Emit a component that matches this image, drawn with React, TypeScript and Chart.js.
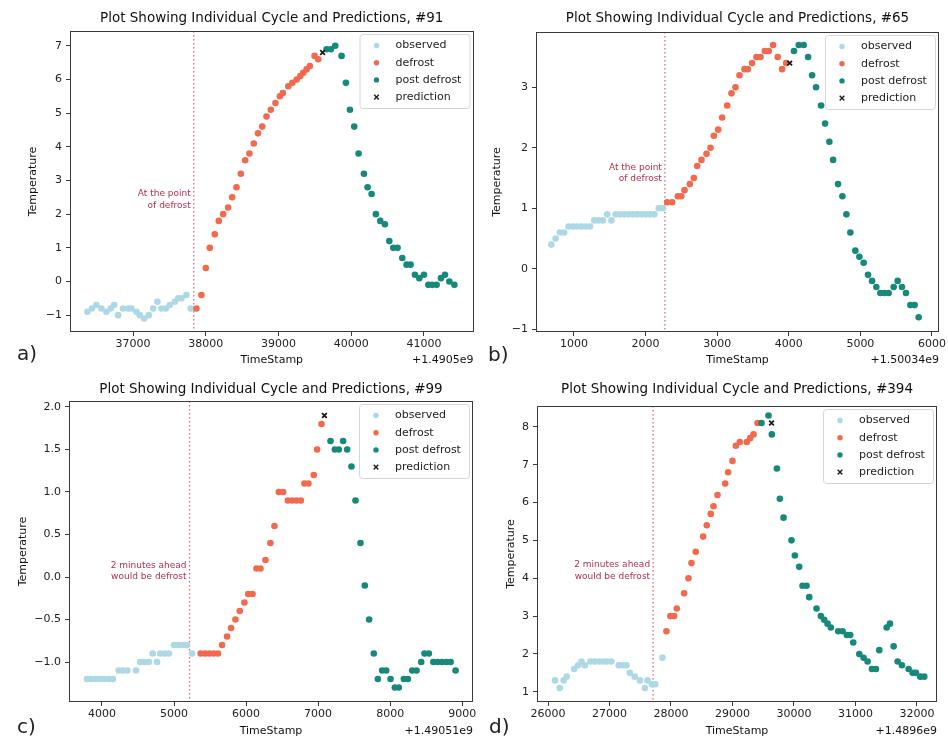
import React, { useEffect, useRef } from 'react';
import { Chart, registerables } from 'chart.js';
Chart.register(...registerables);

const W = 948;
const H = 738;
const FONT = '"DejaVu Sans", sans-serif';

// ---------- Panel a (#91) ----------
const aTitle = 'Plot Showing Individual Cycle and Predictions, #91';
const aOffset = '+1.4905e9';
const aNote = ['At the point', 'of defrost'];
const aLineX = 37835;
const aNoteY = 2.43;
const aXRange = [36133, 41681];
const aYRange = [-1.5, 7.44];
const aXTicks = [37000, 38000, 39000, 40000, 41000];
const aYTicks = [-1, 0, 1, 2, 3, 4, 5, 6, 7];
const aObsX = [36372, 36436, 36496, 36565, 36633, 36693, 36739, 36794, 36863, 36932, 36977, 37046, 37092, 37152, 37216, 37276, 37335, 37390, 37450, 37505, 37574, 37620, 37666, 37734, 37794];
const aObsY = [-0.9, -0.8, -0.7, -0.8, -0.9, -0.8, -0.7, -1.0, -0.8, -0.8, -0.8, -0.9, -1.0, -1.1, -1.0, -0.8, -0.6, -0.8, -0.8, -0.7, -0.6, -0.5, -0.5, -0.4, -0.8];
const aDefX = [37872, 37940, 38000, 38055, 38124, 38179, 38239, 38307, 38362, 38422, 38482, 38541, 38600, 38660, 38718, 38776, 38835, 38894, 38958, 39019, 39060, 39135, 39190, 39250, 39300, 39340, 39386, 39431, 39496, 39546];
const aDefY = [-0.8, -0.4, 0.4, 1.0, 1.4, 1.8, 2.0, 2.2, 2.5, 2.8, 3.2, 3.6, 3.8, 4.1, 4.4, 4.6, 4.9, 5.1, 5.3, 5.5, 5.6, 5.8, 5.9, 6.0, 6.1, 6.2, 6.3, 6.4, 6.7, 6.6];
const aPostX = [39661, 39720, 39780, 39867, 39927, 39982, 40041, 40101, 40174, 40225, 40280, 40339, 40399, 40463, 40523, 40578, 40637, 40702, 40761, 40816, 40876, 40936, 41000, 41060, 41115, 41174, 41234, 41289, 41349, 41418];
const aPostY = [6.9, 6.9, 7.0, 6.7, 5.9, 5.1, 4.6, 3.8, 3.2, 2.8, 2.6, 2.0, 1.8, 1.7, 1.2, 1.0, 1.0, 0.7, 0.5, 0.5, 0.2, 0.1, 0.2, -0.1, -0.1, -0.1, 0.1, 0.2, 0.0, -0.1];
const aPredX = [39606];
const aPredY = [6.8];

// ---------- Panel b (#65) ----------
const bTitle = 'Plot Showing Individual Cycle and Predictions, #65';
const bOffset = '+1.50034e9';
const bNote = ['At the point', 'of defrost'];
const bLineX = 2270;
const bNoteY = 1.575;
const bXRange = [470, 6098];
const bYRange = [-1.045, 3.914];
const bXTicks = [1000, 2000, 3000, 4000, 5000, 6000];
const bYTicks = [-1, 0, 1, 2, 3];
const bObsX = [684, 744, 804, 864, 924, 984, 1044, 1104, 1164, 1224, 1284, 1344, 1404, 1464, 1524, 1584, 1644, 1704, 1764, 1824, 1884, 1944, 2004, 2064, 2124, 2184, 2244];
const bObsY = [0.4, 0.5, 0.6, 0.6, 0.7, 0.7, 0.7, 0.7, 0.7, 0.7, 0.8, 0.8, 0.8, 0.9, 0.8, 0.9, 0.9, 0.9, 0.9, 0.9, 0.9, 0.9, 0.9, 0.9, 0.9, 1.0, 1.0];
const bDefX = [2302, 2372, 2451, 2498, 2544, 2619, 2674, 2721, 2781, 2851, 2907, 2953, 3014, 3070, 3140, 3200, 3256, 3312, 3381, 3428, 3488, 3549, 3605, 3665, 3721, 3781, 3846, 3907, 3963];
const bDefY = [1.1, 1.1, 1.2, 1.2, 1.3, 1.4, 1.5, 1.7, 1.8, 1.9, 2.0, 2.2, 2.3, 2.5, 2.7, 2.9, 3.0, 3.2, 3.3, 3.3, 3.4, 3.5, 3.5, 3.6, 3.6, 3.7, 3.5, 3.3, 3.4];
const bPostX = [4073, 4139, 4209, 4270, 4326, 4381, 4451, 4507, 4567, 4619, 4688, 4749, 4805, 4860, 4930, 4986, 5046, 5107, 5163, 5223, 5279, 5335, 5395, 5465, 5521, 5581, 5637, 5698, 5758, 5814];
const bPostY = [3.6, 3.7, 3.7, 3.5, 3.2, 3.0, 2.7, 2.4, 2.1, 1.8, 1.4, 1.2, 0.9, 0.6, 0.3, 0.2, 0.1, -0.1, -0.2, -0.3, -0.4, -0.4, -0.4, -0.3, -0.2, -0.3, -0.4, -0.6, -0.6, -0.8];
const bPredX = [4013];
const bPredY = [3.4];

// ---------- Panel c (#99) ----------
const cTitle = 'Plot Showing Individual Cycle and Predictions, #99';
const cOffset = '+1.49051e9';
const cNote = ['2 minutes ahead', 'would be defrost'];
const cLineX = 5215;
const cNoteY = 0.073;
const cXRange = [3542, 9150];
const cYRange = [-1.47, 2.07];
const cXTicks = [4000, 5000, 6000, 7000, 8000, 9000];
const cYTicks = [-1.0, -0.5, 0.0, 0.5, 1.0, 1.5, 2.0];
const cObsX = [3792, 3852, 3912, 3972, 4032, 4092, 4152, 4232, 4292, 4352, 4472, 4530, 4590, 4650, 4703, 4764, 4810, 4870, 4930, 5000, 5060, 5120, 5180, 5250];
const cObsY = [-1.2, -1.2, -1.2, -1.2, -1.2, -1.2, -1.2, -1.1, -1.1, -1.1, -1.1, -1.0, -1.0, -1.0, -0.9, -1.0, -0.9, -0.9, -0.9, -0.8, -0.8, -0.8, -0.8, -0.9];
const cDefX = [5370, 5430, 5490, 5550, 5610, 5667, 5736, 5792, 5852, 5912, 5977, 6030, 6090, 6145, 6200, 6269, 6338, 6394, 6454, 6515, 6580, 6640, 6700, 6760, 6810, 6865, 6940, 6986, 7047];
const cDefY = [-0.9, -0.9, -0.9, -0.9, -0.9, -0.8, -0.7, -0.6, -0.5, -0.4, -0.3, -0.2, -0.2, 0.1, 0.1, 0.2, 0.4, 0.6, 1.0, 1.0, 0.9, 0.9, 0.9, 0.9, 1.1, 1.1, 1.2, 1.5, 1.8];
const cPostX = [7172, 7232, 7287, 7347, 7403, 7463, 7519, 7588, 7648, 7709, 7773, 7829, 7889, 7945, 8005, 8065, 8121, 8190, 8246, 8306, 8366, 8431, 8477, 8537, 8600, 8660, 8720, 8780, 8840, 8908];
const cPostY = [1.6, 1.5, 1.5, 1.6, 1.5, 1.3, 0.9, 0.4, -0.1, -0.5, -0.9, -1.2, -1.1, -1.1, -1.2, -1.3, -1.3, -1.2, -1.2, -1.1, -1.1, -1.0, -0.9, -0.9, -1.0, -1.0, -1.0, -1.0, -1.0, -1.1];
const cPredX = [7088];
const cPredY = [1.9];

// ---------- Panel d (#394) ----------
const dTitle = 'Plot Showing Individual Cycle and Predictions, #394';
const dOffset = '+1.4896e9';
const dNote = ['2 minutes ahead', 'would be defrost'];
const dLineX = 27709;
const dNoteY = 4.2;
const dXRange = [25821, 32326];
const dYRange = [0.73, 8.55];
const dXTicks = [26000, 27000, 28000, 29000, 30000, 31000, 32000];
const dYTicks = [1, 2, 3, 4, 5, 6, 7, 8];
const dObsX = [26114, 26190, 26255, 26304, 26425, 26490, 26545, 26600, 26690, 26760, 26830, 26900, 26960, 27030, 27150, 27210, 27275, 27330, 27410, 27495, 27575, 27617, 27690, 27745, 27860];
const dObsY = [1.3, 1.1, 1.3, 1.4, 1.6, 1.7, 1.8, 1.7, 1.8, 1.8, 1.8, 1.8, 1.8, 1.8, 1.7, 1.7, 1.7, 1.5, 1.4, 1.3, 1.1, 1.3, 1.2, 1.2, 1.9];
const dDefX = [27926, 27990, 28050, 28094, 28213, 28284, 28333, 28403, 28523, 28582, 28647, 28691, 28756, 28881, 28929, 29000, 29054, 29119, 29233, 29288, 29342, 29407];
const dDefY = [2.6, 3.0, 3.0, 3.2, 3.6, 4.0, 4.4, 4.7, 5.1, 5.4, 5.7, 5.9, 6.2, 6.5, 6.8, 7.1, 7.5, 7.6, 7.6, 7.7, 7.8, 8.1];
const dPostX = [29472, 29586, 29640, 29722, 29770, 29830, 29960, 30014, 30085, 30139, 30204, 30248, 30367, 30437, 30492, 30546, 30600, 30720, 30790, 30860, 30915, 30964, 31062, 31132, 31197, 31268, 31333, 31387, 31507, 31561, 31621, 31686, 31756, 31864, 31930, 31984, 32054, 32119];
const dPostY = [8.1, 8.3, 7.8, 6.9, 6.1, 5.6, 5.0, 4.6, 4.3, 3.8, 3.8, 3.5, 3.2, 3.0, 2.9, 2.8, 2.7, 2.6, 2.6, 2.5, 2.5, 2.3, 2.0, 1.9, 1.8, 1.6, 1.6, 2.1, 2.7, 2.8, 2.2, 1.8, 1.7, 1.6, 1.5, 1.5, 1.4, 1.4];
const dPredX = [29635];
const dPredY = [8.1];

const legendLabels = ['observed', 'defrost', 'post defrost', 'prediction'];

const C_OBS = '#add8e6';
const C_DEF = '#f3694d';
const C_POST = '#16897b';
const C_PRED = '#1a1a1a';

const panels = [
  { key: 'a', letter: 'a)', title: aTitle, offset: aOffset, note: aNote, lineX: aLineX, noteY: aNoteY, xRange: aXRange, yRange: aYRange, xTicks: aXTicks, yTicks: aYTicks, yDec: 0,
    obsX: aObsX, obsY: aObsY, defX: aDefX, defY: aDefY, postX: aPostX, postY: aPostY, predX: aPredX, predY: aPredY,
    area: { left: 70, right: 473.5, top: 31, bottom: 332 }, titleY: 18, labelRowY: 360, yLabelX: 33, letterPos: [17, 355] },
  { key: 'b', letter: 'b)', title: bTitle, offset: bOffset, note: bNote, lineX: bLineX, noteY: bNoteY, xRange: bXRange, yRange: bYRange, xTicks: bXTicks, yTicks: bYTicks, yDec: 0,
    obsX: bObsX, obsY: bObsY, defX: bDefX, defY: bDefY, postX: bPostX, postY: bPostY, predX: bPredX, predY: bPredY,
    area: { left: 536, right: 939, top: 32, bottom: 332 }, titleY: 18, labelRowY: 360, yLabelX: 497, letterPos: [488, 356] },
  { key: 'c', letter: 'c)', title: cTitle, offset: cOffset, note: cNote, lineX: cLineX, noteY: cNoteY, xRange: cXRange, yRange: cYRange, xTicks: cXTicks, yTicks: cYTicks, yDec: 1,
    obsX: cObsX, obsY: cObsY, defX: cDefX, defY: cDefY, postX: cPostX, postY: cPostY, predX: cPredX, predY: cPredY,
    area: { left: 69, right: 473, top: 401, bottom: 702 }, titleY: 389, labelRowY: 731, yLabelX: 23, letterPos: [17, 728] },
  { key: 'd', letter: 'd)', title: dTitle, offset: dOffset, note: dNote, lineX: dLineX, noteY: dNoteY, xRange: dXRange, yRange: dYRange, xTicks: dXTicks, yTicks: dYTicks, yDec: 0,
    obsX: dObsX, obsY: dObsY, defX: dDefX, defY: dDefY, postX: dPostX, postY: dPostY, predX: dPredX, predY: dPredY,
    area: { left: 537, right: 937, top: 406, bottom: 702 }, titleY: 389, labelRowY: 731, yLabelX: 511, letterPos: [489, 728] },
];

const fmtNum = (v: number, dec: number) => {
  const s = Math.abs(v).toFixed(dec);
  return v < -1e-9 ? '\u2212' + s : s;
};

function drawX(ctx: CanvasRenderingContext2D, x: number, y: number, r: number) {
  ctx.beginPath();
  ctx.moveTo(x - r, y - r); ctx.lineTo(x + r, y + r);
  ctx.moveTo(x - r, y + r); ctx.lineTo(x + r, y - r);
  ctx.stroke();
}

function decorPlugin(p: any) {
  return {
    id: 'decor_' + p.key,
    beforeDatasetsDraw(chart: any) {
      const { ctx, chartArea: a, scales } = chart;
      const lx = scales.x.getPixelForValue(p.lineX);
      ctx.save();
      ctx.strokeStyle = '#d4607a';
      ctx.lineWidth = 1.2;
      ctx.setLineDash([1.5, 2.5]);
      ctx.beginPath();
      ctx.moveTo(lx, a.top);
      ctx.lineTo(lx, a.bottom);
      ctx.stroke();
      ctx.setLineDash([]);
      const ny = scales.y.getPixelForValue(p.noteY);
      ctx.fillStyle = '#b0304a';
      ctx.font = '9px ' + FONT;
      ctx.textAlign = 'right';
      ctx.textBaseline = 'middle';
      ctx.fillText(p.note[0], lx - 3, ny - 5.6);
      ctx.fillText(p.note[1], lx - 3, ny + 5.6);
      ctx.restore();
    },
    afterDraw(chart: any) {
      const { ctx, chartArea: a } = chart;
      ctx.save();
      ctx.strokeStyle = '#3a3a3a';
      ctx.lineWidth = 1;
      ctx.strokeRect(Math.round(a.left) + 0.5, Math.round(a.top) + 0.5, Math.round(a.right - a.left) - 1, Math.round(a.bottom - a.top) - 1);
      const cx = (a.left + a.right) / 2;
      ctx.fillStyle = '#111';
      ctx.textBaseline = 'middle';
      ctx.font = '13.5px ' + FONT;
      ctx.textAlign = 'center';
      ctx.fillText(p.title, cx, p.titleY);
      ctx.font = '11px ' + FONT;
      ctx.fillText('TimeStamp', cx, p.labelRowY);
      ctx.textAlign = 'right';
      ctx.fillText(p.offset, a.right, p.labelRowY);
      ctx.save();
      ctx.translate(p.yLabelX, (a.top + a.bottom) / 2);
      ctx.rotate(-Math.PI / 2);
      ctx.textAlign = 'center';
      ctx.fillText('Temperature', 0, 0);
      ctx.restore();
      ctx.font = '20px ' + FONT;
      ctx.textAlign = 'left';
      ctx.fillStyle = '#222';
      ctx.fillText(p.letter, p.letterPos[0], p.letterPos[1]);
      const bw = 110, bh = 74;
      const bx = a.right - 4 - bw, by = a.top + 3;
      ctx.beginPath();
      if ((ctx as any).roundRect) (ctx as any).roundRect(bx + 0.5, by + 0.5, bw, bh, 3);
      else ctx.rect(bx + 0.5, by + 0.5, bw, bh);
      ctx.fillStyle = 'rgba(255,255,255,0.85)';
      ctx.fill();
      ctx.strokeStyle = '#d6d6d6';
      ctx.stroke();
      const cols = [C_OBS, C_DEF, C_POST];
      ctx.font = '11px ' + FONT;
      ctx.textAlign = 'left';
      for (let i = 0; i < 4; i++) {
        const ry = by + 11.5 + i * 17.2;
        const mx = bx + 17;
        if (i < 3) {
          ctx.fillStyle = cols[i];
          ctx.beginPath();
          ctx.arc(mx, ry, 2.7, 0, Math.PI * 2);
          ctx.fill();
        } else {
          ctx.strokeStyle = C_PRED;
          ctx.lineWidth = 1.4;
          drawX(ctx, mx, ry, 2.3);
        }
        ctx.fillStyle = '#222';
        ctx.fillText(legendLabels[i], bx + 36, ry);
      }
      ctx.restore();
    },
  };
}

function makeConfig(p: any): any {
  const pts = (xs: number[], ys: number[]) => xs.map((x, i) => ({ x, y: ys[i] }));
  const tickFont = { family: FONT, size: 11 };
  return {
    type: 'scatter',
    data: {
      datasets: [
        { label: 'prediction', data: pts(p.predX, p.predY), pointStyle: 'crossRot', pointRadius: 3.3, pointBorderColor: C_PRED, pointBorderWidth: 1.8, pointBackgroundColor: C_PRED, order: 0 },
        { label: 'post defrost', data: pts(p.postX, p.postY), pointRadius: 3.3, pointBackgroundColor: C_POST, pointBorderWidth: 0, pointBorderColor: C_POST, order: 1 },
        { label: 'defrost', data: pts(p.defX, p.defY), pointRadius: 3.3, pointBackgroundColor: C_DEF, pointBorderWidth: 0, pointBorderColor: C_DEF, order: 2 },
        { label: 'observed', data: pts(p.obsX, p.obsY), pointRadius: 3.3, pointBackgroundColor: C_OBS, pointBorderWidth: 0, pointBorderColor: C_OBS, order: 3 },
      ],
    },
    options: {
      responsive: false,
      animation: false,
      devicePixelRatio: 1,
      events: [],
      layout: { padding: { left: 0, top: p.area.top, right: W - p.area.right, bottom: 0 } },
      plugins: { legend: { display: false }, title: { display: false }, tooltip: { enabled: false } },
      scales: {
        x: {
          type: 'linear',
          position: 'bottom',
          min: p.xRange[0],
          max: p.xRange[1],
          afterBuildTicks: (s: any) => { s.ticks = p.xTicks.map((v: number) => ({ value: v })); },
          afterFit: (s: any) => { s.height = H - p.area.bottom; s.paddingLeft = 0; s.paddingRight = 0; },
          ticks: { font: tickFont, color: '#222', padding: 2, maxRotation: 0, autoSkip: false, callback: (v: number) => String(v) },
          grid: { display: true, drawOnChartArea: false, drawTicks: true, tickLength: 4, color: '#3a3a3a', lineWidth: 1 },
          border: { display: false },
        },
        y: {
          type: 'linear',
          position: 'left',
          min: p.yRange[0],
          max: p.yRange[1],
          afterBuildTicks: (s: any) => { s.ticks = p.yTicks.map((v: number) => ({ value: v })); },
          afterFit: (s: any) => { s.width = p.area.left; s.paddingTop = 0; s.paddingBottom = 0; },
          ticks: { font: tickFont, color: '#222', padding: 4, autoSkip: false, callback: (v: number) => fmtNum(v, p.yDec) },
          grid: { display: true, drawOnChartArea: false, drawTicks: true, tickLength: 4, color: '#3a3a3a', lineWidth: 1 },
          border: { display: false },
        },
      },
    },
    plugins: [decorPlugin(p)],
  };
}

function Panel({ p }: { p: any }) {
  const ref = useRef<HTMLCanvasElement | null>(null);
  useEffect(() => {
    if (!ref.current) return;
    const chart = new Chart(ref.current, makeConfig(p));
    return () => chart.destroy();
  }, [p]);
  return <canvas ref={ref} width={W} height={H} style={{ position: 'absolute', left: 0, top: 0, width: W, height: H }} />;
}

export default function App() {
  return (
    <div style={{ position: 'absolute', left: 0, top: 0, width: W, height: H, background: '#fff', overflow: 'hidden' }}>
      {panels.map((p) => <Panel key={p.key} p={p} />)}
    </div>
  );
}
